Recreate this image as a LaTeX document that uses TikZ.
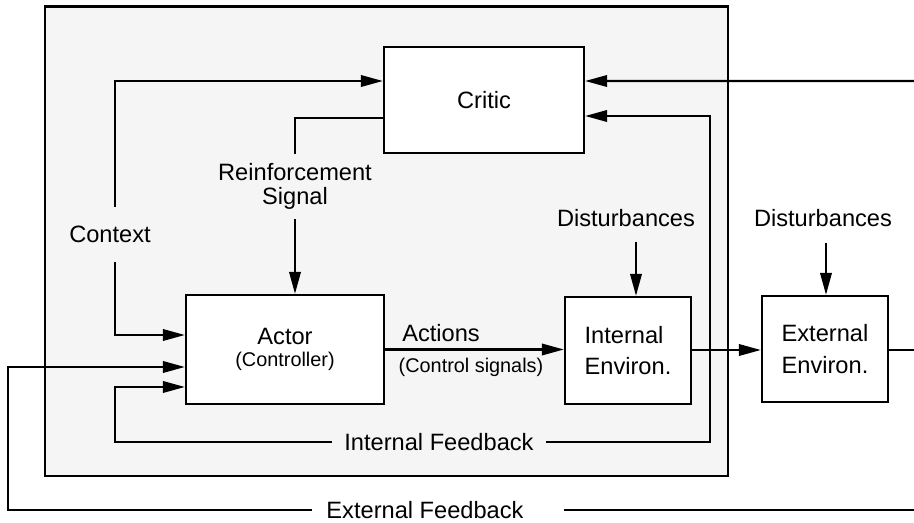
\documentclass[tikz,border=0pt]{standalone}
\usepackage{fontspec}
\setmainfont{Liberation Sans}
\usetikzlibrary{arrows.meta}
\definecolor{panelgray}{HTML}{F5F5F5}
\tikzset{block/.style={draw, fill=white, line width=1.3pt, inner sep=0pt},
         wire/.style={line width=1.25pt},
         signal/.style={wire, -{Triangle[length=12.5pt,width=6.5pt]}},
         lab/.style={inner sep=0pt, font=\fontsize{13.45}{13.7}\selectfont, align=center},
         note/.style={inner sep=0pt, font=\fontsize{11.3}{13}\selectfont}}
\begin{document}
\begin{tikzpicture}[x=0.02cm, y=-0.02cm]
    \useasboundingbox (0,0) rectangle (914,523);
    \filldraw[fill=panelgray, line width=1.3pt] (45,6.5) rectangle (728,476);

    % blocks
    \node[block, lab, minimum width=4cm, minimum height=2.12cm] (critic) at (484,100) {Critic};
    \node[block, lab, minimum width=3.96cm, minimum height=2.18cm,
          font=\fontsize{13.45}{13}\selectfont] (actor) at (285,349.5)
          {Actor\\{\fontsize{11.3}{13}\selectfont (Controller)}};
    \node[block, lab, align=left, minimum width=2.52cm, minimum height=2.14cm,
          font=\fontsize{13.45}{18}\selectfont] (intenv) at (628,350.5) {Internal\\Environ.};
    \node[block, lab, align=left, minimum width=2.52cm, minimum height=2.12cm,
          font=\fontsize{13.45}{18}\selectfont] (extenv) at (825,349) {External\\Environ.};

    % labels
    \node[lab, minimum height=1.1cm] (context) at (110,234.5) {Context};
    \node[lab, minimum height=1.3cm] (reinf) at (295,186.5) {Reinforcement\\Signal};
    \node[lab] (actions) at (441,333) {Actions};
    \node[note] (ctrlsig) at (471,367) {(Control signals)};
    \node[lab] (intdist) at (626,218.5) {Disturbances};
    \node[lab] (extdist) at (823,218.5) {Disturbances};
    \node[lab, minimum width=4.28cm] (intfb) at (439,442) {Internal Feedback};
    \node[lab] (extfb) at (425,510) {External Feedback};

    \coordinate (ifbleft) at (115,442);
    \coordinate (ifbright) at (710,442);
    \coordinate (critin) at (914,81);
    \coordinate (extout) at (914,350);
    \coordinate (fbout) at (914,510);
    \coordinate (fbleft) at (8,510);

    % connectors
    \draw[signal] ([xshift=0.1cm]context.north) |- ([yshift=0.38cm]critic.west);
    \draw[signal] ([xshift=0.1cm]context.south) |- ([yshift=0.29cm]actor.west);
    \draw[wire] ([yshift=-0.36cm]critic.west) -| (reinf.north);
    \draw[signal] (reinf.south) -- (reinf.south |- actor.north);
    \draw[signal] (critin) -- ([yshift=0.38cm]critic.east);
    \draw[signal] (intfb.east) -- (ifbright) |- ([yshift=-0.32cm]critic.east);
    \draw[signal] (intfb.west) -- (ifbleft) |- ([yshift=-0.75cm]actor.west);
    \draw[signal] ([xshift=-0.28cm]extfb.west) -- (fbleft) |- ([yshift=-0.35cm]actor.west);
    \draw[wire] (fbout) -- ([xshift=0.8cm]extfb.east);
    \draw[signal] (actor.east) -- (actor.east -| intenv.west);
    \draw[signal] (intenv.east |- 0,350) -- (extenv.west |- 0,350);
    \draw[wire] (extenv.east |- 0,350) -- (extout);
    \draw[signal] ([xshift=0.2cm,yshift=-0.28cm]intdist.south) -- ([xshift=0.2cm]intdist.south |- intenv.north);
    \draw[signal] ([xshift=0.06cm,yshift=-0.3cm]extdist.south) -- ([xshift=0.06cm]extdist.south |- extenv.north);
\end{tikzpicture}
\end{document}
